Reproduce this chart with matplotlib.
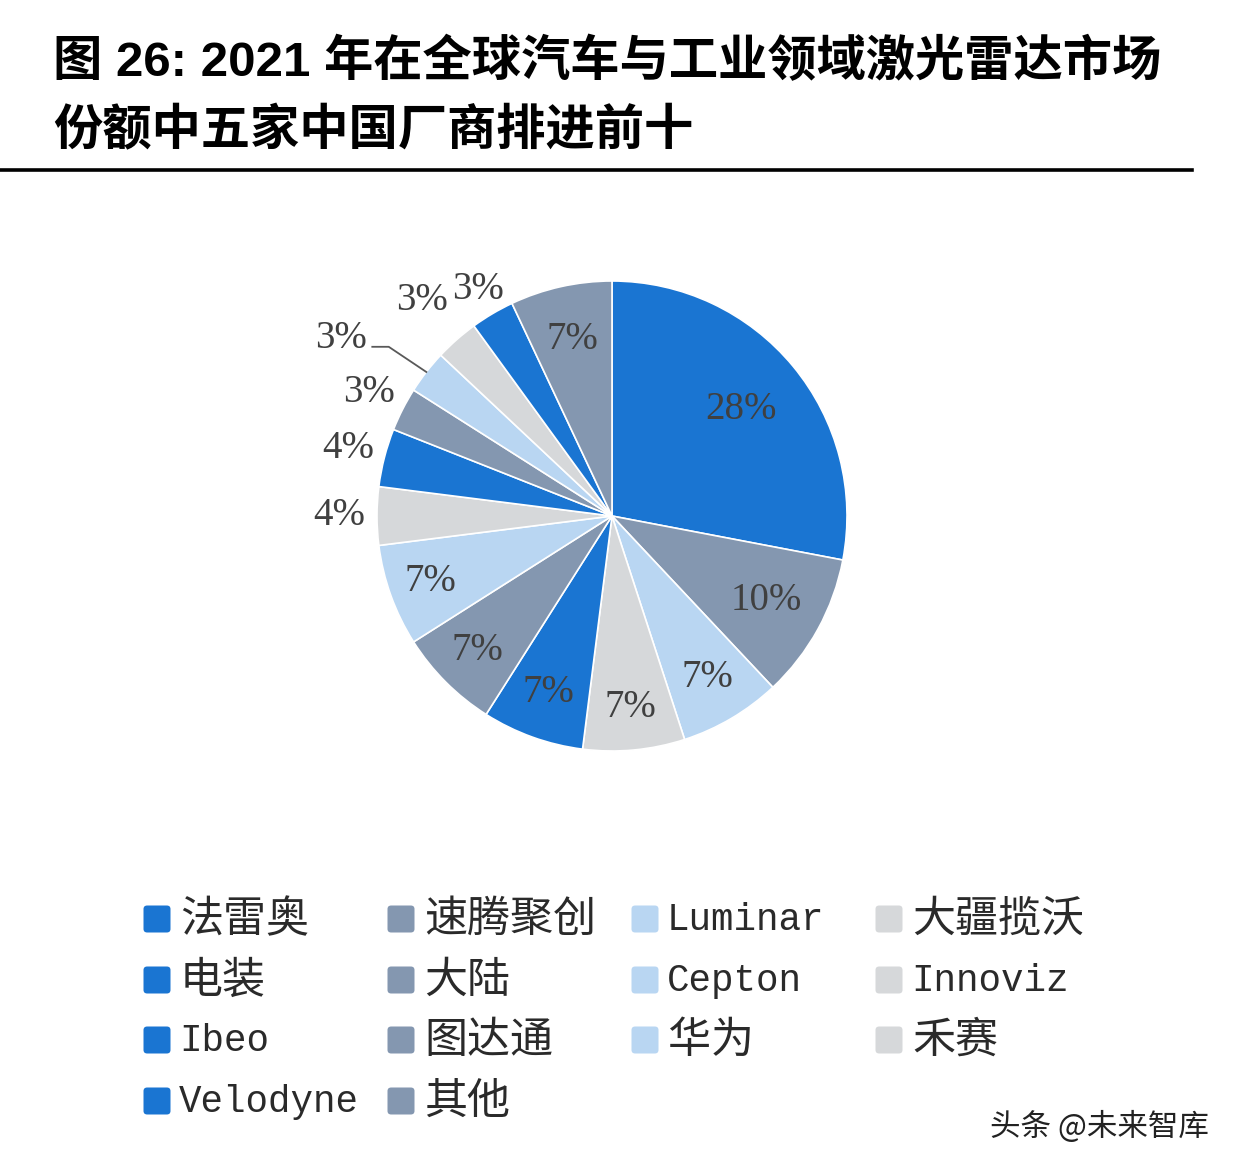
import matplotlib
matplotlib.use("Agg")
import matplotlib.pyplot as plt
from matplotlib.patches import FancyBboxPatch
import numpy as np

plt.rcParams['font.family'] = ['Noto Sans CJK SC', 'DejaVu Sans']

# ---- data ----
title_lines = ["图 26: 2021 年在全球汽车与工业领域激光雷达市场",
               "份额中五家中国厂商排进前十"]
companies = ["法雷奥", "速腾聚创", "Luminar", "大疆揽沃", "电装", "大陆", "Cepton",
             "Innoviz", "Ibeo", "图达通", "华为", "禾赛", "Velodyne", "其他"]
shares = [28, 10, 7, 7, 7, 7, 7, 4, 4, 3, 3, 3, 3, 7]
pct_labels = ["28%", "10%", "7%", "7%", "7%", "7%", "7%", "4%", "4%", "3%", "3%", "3%", "3%", "7%"]
watermark = "头条 @未来智库"

palette = ["#1A75D2", "#8497B0", "#B9D6F2", "#D6D8DA"]
colors = [palette[i % 4] for i in range(len(shares))]

W, H = 1250, 1170
fig = plt.figure(figsize=(W / 100, H / 100), dpi=100)
fig.patch.set_facecolor("white")

def fx(px):
    return px / W

def fy(py):
    return 1 - py / H

# ---- title ----
title_font = ['Liberation Sans', 'Noto Sans CJK SC']
fig.text(fx(53), fy(62), title_lines[0], fontsize=35.5, fontweight='bold',
         family=title_font, ha='left', va='center', color='black')
fig.text(fx(53), fy(132), title_lines[1], fontsize=35.5, fontweight='bold',
         family=title_font, ha='left', va='center', color='black')
fig.add_artist(plt.Line2D([0, fx(1192)], [fy(170), fy(170)], color='black', lw=2.6))

# ---- pie ----
cx, cy, R = 612, 516, 235
ax = fig.add_axes([fx(cx - R), fy(cy + R), 2 * R / W, 2 * R / H])
wedges, _ = ax.pie(shares, colors=colors, startangle=90, counterclock=False,
                   radius=1.0, wedgeprops=dict(edgecolor='white', linewidth=1.2))
ax.set_xlim(-1, 1)
ax.set_ylim(-1, 1)
ax.set_aspect('auto')
ax.axis('off')

label_font = ['Liberation Serif', 'Noto Sans CJK SC']
label_r = {0: 0.71, 1: 0.75, 2: 0.80, 3: 0.82, 4: 0.80, 5: 0.81, 6: 0.82,
           7: 1.16, 8: 1.16, 9: 1.16, 11: 1.22, 12: 1.12, 13: 0.77}
for i, w in enumerate(wedges):
    mid = np.deg2rad((w.theta1 + w.theta2) / 2)
    if i == 10:
        # 华为 label with leader line
        ex, ey = 1.0 * np.cos(mid), 1.0 * np.sin(mid)
        ax.plot([-1.02, -0.95, ex], [0.72, 0.72, ey], color='#595959', lw=1.3,
                clip_on=False)
        ax.text(-1.155, 0.755, pct_labels[i], ha='center', va='center',
                fontsize=28, color='#404040', family=label_font, clip_on=False)
        continue
    r = label_r[i]
    ax.text(r * np.cos(mid), r * np.sin(mid), pct_labels[i], ha='center', va='center',
            fontsize=28, color='#404040', family=label_font, clip_on=False)

# ---- legend (manual grid, 4 columns) ----
col_x = [157, 401, 645, 889]
row_y = [919, 980, 1040, 1101]
sq = 27
for i, (name, c) in enumerate(zip(companies, colors)):
    row, col = divmod(i, 4)
    x, y = col_x[col], row_y[row]
    box = FancyBboxPatch((fx(x - sq / 2), fy(y + sq / 2)), sq / W, sq / H,
                         boxstyle="round,pad=0,rounding_size=0.003",
                         transform=fig.transFigure, facecolor=c, edgecolor='none')
    fig.add_artist(box)
    if name.isascii():
        fig.text(fx(x + 22), fy(y + 1), name, fontsize=27,
                 family=['Liberation Mono', 'Noto Sans CJK SC'],
                 ha='left', va='center', color='#2a2a2a')
    else:
        fig.text(fx(x + 23), fy(y + 1), name, fontsize=31,
                 family=['Noto Sans CJK SC', 'DejaVu Sans'],
                 ha='left', va='center', color='#2a2a2a')

# ---- watermark ----
fig.text(fx(990), fy(1127), watermark, fontsize=22, color='#222222',
         ha='left', va='center', family=['Noto Sans CJK SC', 'DejaVu Sans'])

fig.savefig("out.png", dpi=100, facecolor='white')
